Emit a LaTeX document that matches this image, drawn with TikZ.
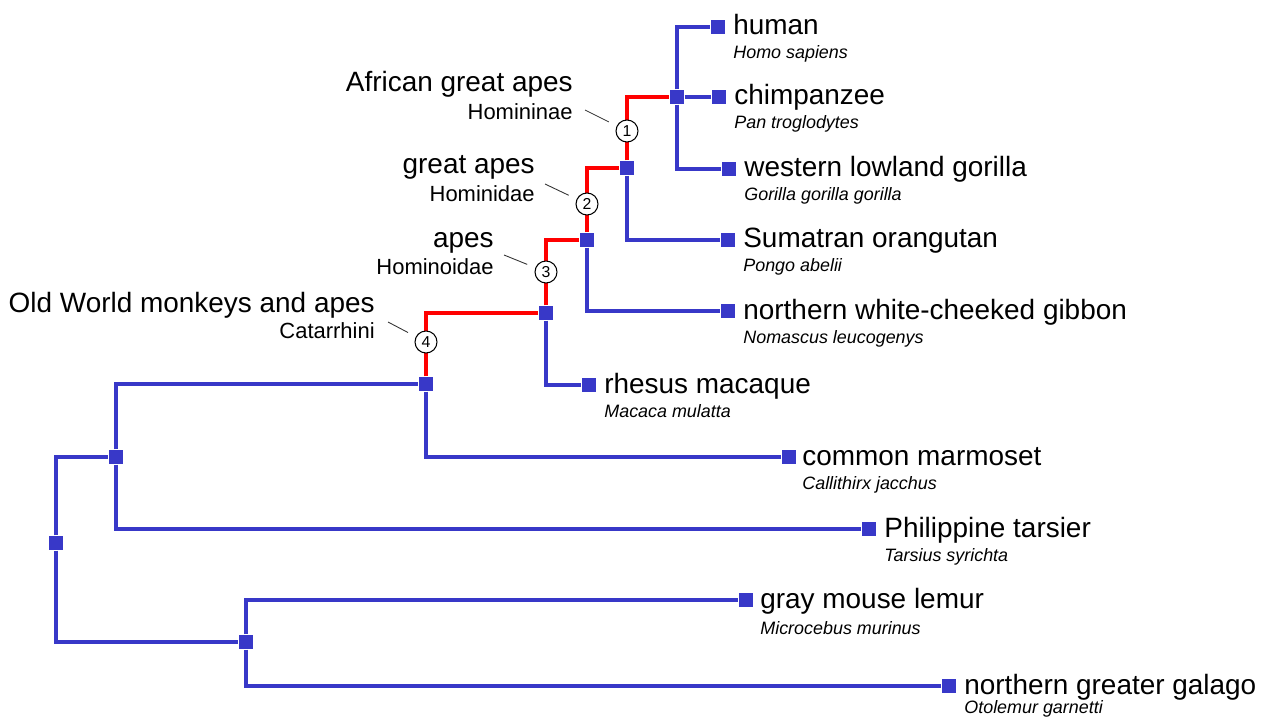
\documentclass[tikz,border=0pt]{standalone}
\usepackage{fontspec}
\setmainfont{Liberation Sans}
\usepackage{tikz}
\usetikzlibrary{positioning}
\definecolor{treeblue}{RGB}{56, 56, 200}
\definecolor{treered}{RGB}{255, 0, 0}

\begin{document}
\begin{tikzpicture}[
    x=0.02cm, y=-0.02cm,
    box/.style={rectangle, fill=treeblue, minimum size=0.29cm, inner sep=0pt},
    branch/.style={draw=treeblue, line width=1.8pt},
    lineage/.style={draw=treered, line width=1.8pt},
    common/.style={inner sep=0pt, anchor=base west, font=\fontsize{15.9}{19}\selectfont},
    latin/.style={inner sep=0pt, anchor=base west, font=\fontsize{10.2}{12}\selectfont\itshape},
    clade/.style={inner sep=0pt, anchor=base east, font=\fontsize{15.9}{19}\selectfont},
    taxon/.style={inner sep=0pt, anchor=base east, font=\fontsize{12.5}{15}\selectfont},
    marker/.style={circle, draw=black, fill=white, line width=0.6pt, minimum size=0.44cm, inner sep=0pt, font=\fontsize{9}{10}\selectfont},
    leader/.style={draw=black!80, line width=0.5pt, shorten >=5pt}
]
    \useasboundingbox (0,0) rectangle (1266,719);

    % Internal nodes
    \node[box] (root) at (56,543) {};
    \node[box] (hap) at (116,457) {};
    \node[box] (strep) at (246,642) {};
    \node[box] (sim) at (426,384) {};
    \node[box] (cat) at (546,313) {};
    \node[box] (hoid) at (587,240) {};
    \node[box] (hmd) at (627,168) {};
    \node[box] (hmn) at (677,97) {};

    % Leaves
    \node[box] (human) at (718,27) {};
    \node[box] (chimp) at (719,97) {};
    \node[box] (gorilla) at (729,169) {};
    \node[box] (orangutan) at (728,240) {};
    \node[box] (gibbon) at (728,311) {};
    \node[box] (macaque) at (589,385) {};
    \node[box] (marmoset) at (789,457) {};
    \node[box] (tarsier) at (869,529) {};
    \node[box] (lemur) at (746,600) {};
    \node[box] (galago) at (949,686) {};

    % Leaf names
    \node[common] (human-c) at ([shift={(15,8)}]human.center) {human};
    \node[latin] (human-l) at ([shift={(15,32)}]human.center) {Homo sapiens};
    \node[common] (chimp-c) at ([shift={(15,8)}]chimp.center) {chimpanzee};
    \node[latin] (chimp-l) at ([shift={(15,32)}]chimp.center) {Pan troglodytes};
    \node[common] (gorilla-c) at ([shift={(15,8)}]gorilla.center) {western lowland gorilla};
    \node[latin] (gorilla-l) at ([shift={(15,32)}]gorilla.center) {Gorilla gorilla gorilla};
    \node[common] (orangutan-c) at ([shift={(15,8)}]orangutan.center) {Sumatran orangutan};
    \node[latin] (orangutan-l) at ([shift={(15,32)}]orangutan.center) {Pongo abelii};
    \node[common] (gibbon-c) at ([shift={(15,8)}]gibbon.center) {northern white-cheeked gibbon};
    \node[latin] (gibbon-l) at ([shift={(15,32)}]gibbon.center) {Nomascus leucogenys};
    \node[common] (macaque-c) at ([shift={(15,8)}]macaque.center) {rhesus macaque};
    \node[latin] (macaque-l) at ([shift={(15,32)}]macaque.center) {Macaca mulatta};
    \node[common] (marmoset-c) at ([shift={(13,8)}]marmoset.center) {common marmoset};
    \node[latin] (marmoset-l) at ([shift={(13,32)}]marmoset.center) {Callithirx jacchus};
    \node[common] (tarsier-c) at ([shift={(15,8)}]tarsier.center) {Philippine tarsier};
    \node[latin] (tarsier-l) at ([shift={(15,32)}]tarsier.center) {Tarsius syrichta};
    \node[common] (lemur-c) at ([shift={(14,8)}]lemur.center) {gray mouse lemur};
    \node[latin] (lemur-l) at ([shift={(14,34)}]lemur.center) {Microcebus murinus};
    \node[common] (galago-c) at ([shift={(15,8)}]galago.center) {northern greater galago};
    \node[latin] (galago-l) at ([shift={(15,27)}]galago.center) {Otolemur garnetti};

    % Branches
    \draw[branch] (root) |- (hap);
    \draw[branch] (root) |- (strep);
    \draw[branch] (hap) |- (sim);
    \draw[branch] (hap) |- (tarsier);
    \draw[branch] (strep) |- (lemur);
    \draw[branch] (strep) |- (galago);
    \draw[branch] (sim) |- (marmoset);
    \draw[branch] (cat) |- (macaque);
    \draw[branch] (hoid) |- (gibbon);
    \draw[branch] (hmd) |- (orangutan);
    \draw[branch] (hmn) |- (human);
    \draw[branch] (hmn) -- (chimp);
    \draw[branch] (hmn) |- (gorilla);

    % Lineage to human
    \draw[lineage] (sim) |- (cat);
    \draw[lineage] (cat) |- (hoid);
    \draw[lineage] (hoid) |- (hmd);
    \draw[lineage] (hmd) |- (hmn);

    % Numbered clades
    \node[marker] (c1) at (627,131) {1};
    \node[marker] (c2) at (587,204) {2};
    \node[marker] (c3) at (546,272) {3};
    \node[marker] (c4) at (426,342) {4};

    \node[clade] (afr) at (573,92) {African great apes};
    \node[taxon] (hmnn) at (573,120) {Homininae};
    \node[clade] (great) at (535,174) {great apes};
    \node[taxon] (hmnd) at (535,202) {Hominidae};
    \node[clade] (apes) at (494,248) {apes};
    \node[taxon] (hmnoid) at (494,275) {Hominoidae};
    \node[clade] (oldw) at (375,312) {Old World monkeys and apes};
    \node[taxon] (catr) at (375,338) {Catarrhini};

    % Leaders
    \coordinate (l1) at (585,110);
    \coordinate (l2) at (545,184);
    \coordinate (l3) at (504,255);
    \coordinate (l4) at (388,322);
    \draw[leader] (l1) -- (c1);
    \draw[leader] (l2) -- (c2);
    \draw[leader] (l3) -- (c3);
    \draw[leader] (l4) -- (c4);

\end{tikzpicture}
\end{document}
